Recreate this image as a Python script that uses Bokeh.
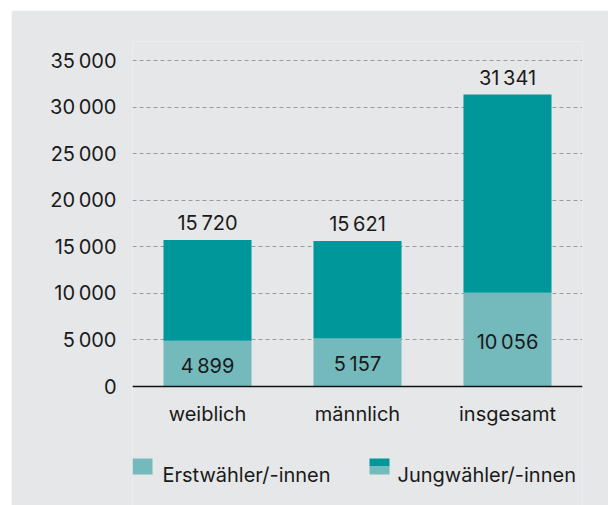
from bokeh.plotting import figure
from bokeh.models import (ColumnDataSource, FactorRange, Range1d, FixedTicker, LabelSet, Span)
from bokeh.core.properties import value
from bokeh.embed import file_html
from bokeh.resources import INLINE

# ---- data ----
categories = ["weiblich", "männlich", "insgesamt"]
erstwaehler = [4899, 5157, 10056]
jungwaehler_total = [15720, 15621, 31341]
y_ticks = [0, 5000, 10000, 15000, 20000, 25000, 30000, 35000]
legend_labels = ["Erstwähler/-innen", "Jungwähler/-innen"]

# ---- style ----
BG = "#e6e7e8"
LIGHT = "#74b9bc"
DARK = "#00979b"
TXT = "#1a1a1a"
FONT = "Inter"
FS = "20px"

# frame geometry (page pixels) used to place the legend below the axis
FRAME_LEFT, PX_PER_CAT = 132, 150
Y0_PX, PX_PER_UNIT = 386, 326 / 35000
Y_START, Y_END = -(505 - 386) / PX_PER_UNIT, 35000 + (60 - 41) / PX_PER_UNIT


def dx(px):
    return (px - FRAME_LEFT) / PX_PER_CAT


def dy(py):
    return (Y0_PX - py) / PX_PER_UNIT


def fmt(v):
    return f"{v:,}".replace(",", "\u2009")


rest = [t - e for t, e in zip(jungwaehler_total, erstwaehler)]
source = ColumnDataSource(dict(
    cat=categories,
    erst=erstwaehler,
    rest=rest,
    total=jungwaehler_total,
    zero=[0] * len(categories),
    erst_mid=[e / 2 for e in erstwaehler],
    erst_lbl=[fmt(e) for e in erstwaehler],
    total_lbl=[fmt(t) for t in jungwaehler_total],
))

p = figure(width=597, height=495, x_range=FactorRange(*categories, range_padding=0),
           y_range=Range1d(Y_START, Y_END), output_backend="svg", toolbar_location=None,
           x_axis_location=None,
           min_border_left=121, min_border_right=26, min_border_top=31, min_border_bottom=0)
p.margin = (10, 2, 0, 11)
p.background_fill_color = BG
p.border_fill_color = BG
p.outline_line_color = None

p.vbar_stack(["erst", "rest"], x="cat", width=0.587, color=[LIGHT, DARK],
             line_color=None, source=source)

# x axis line at 0
p.add_layout(Span(location=0, dimension="width", line_color="#111111", line_width=1.5))

p.add_layout(LabelSet(x="cat", y="erst_mid", text="erst_lbl", source=source,
                      text_align="center", text_baseline="alphabetic", y_offset=-9,
                      text_font=value(FONT), text_font_size=FS, text_color=TXT))
p.add_layout(LabelSet(x="cat", y="total", text="total_lbl", source=source,
                      text_align="center", text_baseline="alphabetic", y_offset=10,
                      text_font=value(FONT), text_font_size=FS, text_color=TXT))
# category labels
p.add_layout(LabelSet(x="cat", y="zero", text="cat", source=source,
                      text_align="center", text_baseline="alphabetic", y_offset=-34,
                      text_font=value(FONT), text_font_size=FS, text_color=TXT))

# y axis
p.xgrid.grid_line_color = None
p.ygrid.grid_line_color = "#9a9a9a"
p.ygrid.grid_line_dash = "4 3"
p.ygrid.grid_line_width = 1
p.yaxis.ticker = FixedTicker(ticks=y_ticks)
p.yaxis.major_label_overrides = {t: fmt(t) for t in y_ticks}
p.yaxis.axis_line_color = None
p.yaxis.major_tick_line_color = None
p.yaxis.minor_tick_line_color = None
p.yaxis.major_tick_out = 0
p.yaxis.major_tick_in = 0
p.yaxis.major_label_standoff = 16
p.yaxis.major_label_text_font = FONT
p.yaxis.major_label_text_font_size = FS
p.yaxis.major_label_text_color = TXT

# ---- legend (second swatch split: Jungwähler include Erstwähler) ----
p.quad(left=[dx(132), dx(369), dx(369)], right=[dx(152), dx(389), dx(389)],
       top=[dy(458), dy(458), dy(466)], bottom=[dy(474), dy(466), dy(474)],
       fill_color=[LIGHT, DARK, LIGHT], line_color=None)
p.text(x=[dx(162), dx(397)], y=[dy(474), dy(474)], text=legend_labels,
       text_baseline="alphabetic", text_align="left",
       text_font=value(FONT), text_font_size=FS, text_color=TXT)

open("out.html", "w").write(file_html(p, INLINE))
